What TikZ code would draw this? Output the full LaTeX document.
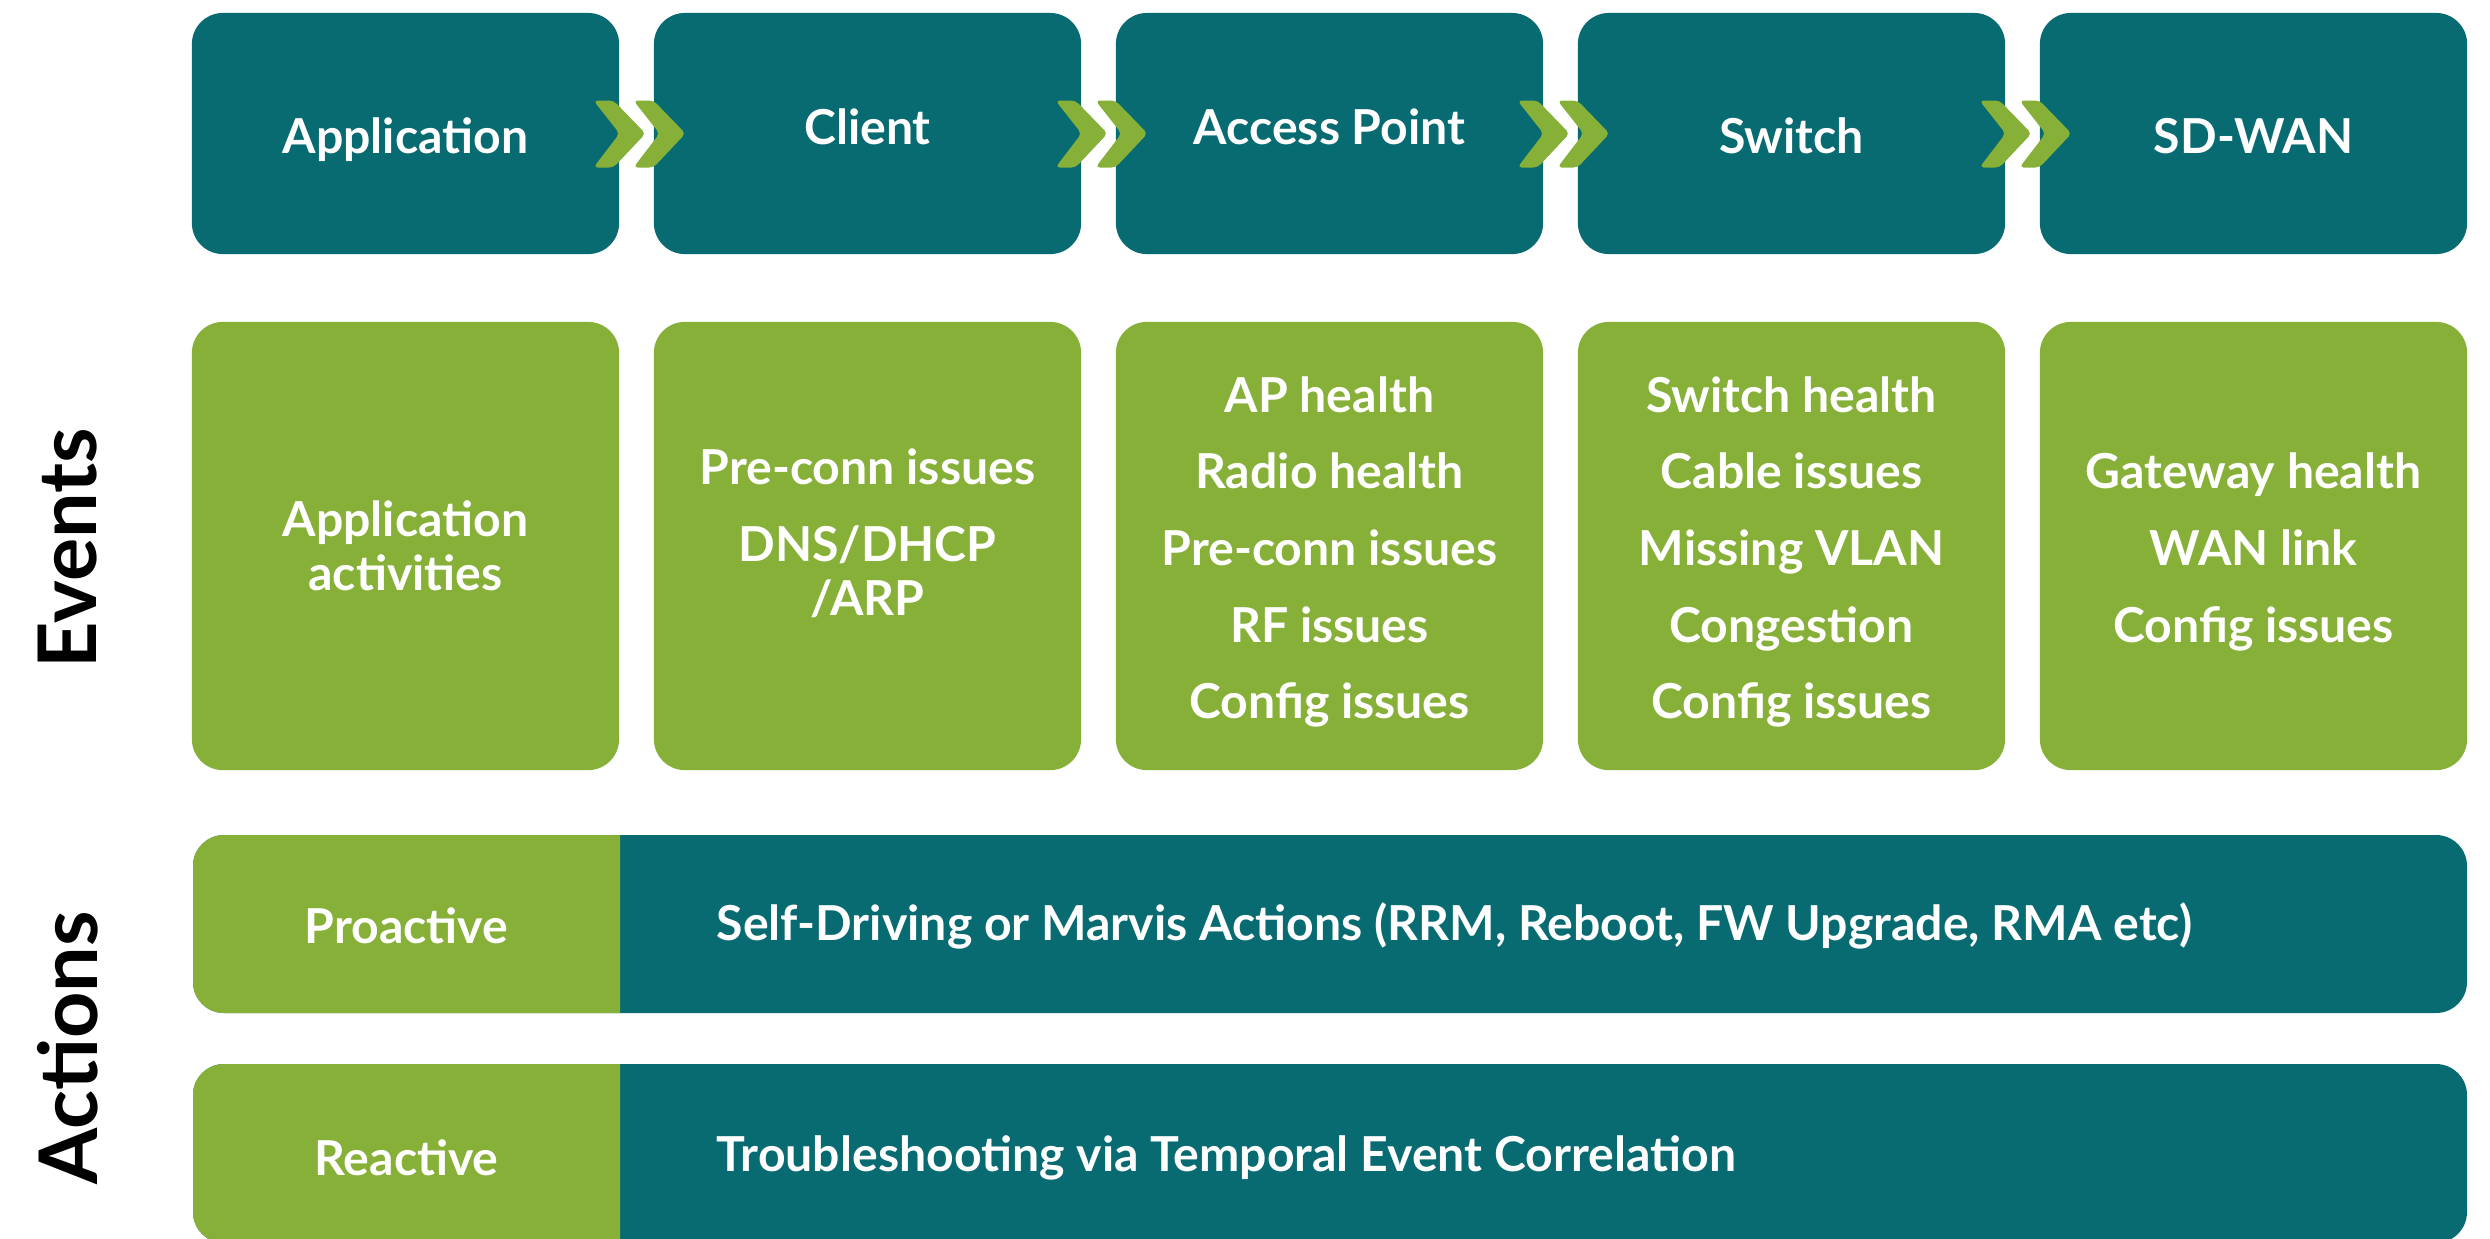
\documentclass[tikz,border=0pt]{standalone}
\usepackage{fontspec}
\setmainfont{Lato}
\usetikzlibrary{calc}
\definecolor{deepteal}{HTML}{076B71}
\definecolor{leaf}{HTML}{86B038}
\newcommand{\evsep}{\\[6.4pt]}
\newcommand{\evtop}{\rule{0pt}{13.5pt}}

\begin{document}
\begin{tikzpicture}[x=0.01cm,y=-0.01cm,
	box/.style={rounded corners=0.31cm, inner sep=0pt, text=white, align=center,
		font=\bfseries\fontsize{13.7}{15.4}\selectfont},
	stage/.style={box, fill=deepteal, minimum width=4.27cm, minimum height=2.41cm, text height=11.6pt, text depth=0pt},
	stageup/.style={stage, text depth=5.5pt},
	evbox/.style={box, fill=leaf, minimum width=4.27cm, minimum height=4.48cm},
	acttxt/.style={text=white, inner sep=0pt, font=\bfseries\fontsize{13.7}{16}\selectfont},
	rowlbl/.style={rotate=90, inner sep=0pt, font=\bfseries\fontsize{23}{27}\selectfont}]
	\useasboundingbox (0,0) rectangle (2490,1238);
	
	% stages
	\node[stage] (app) at (405.5,133.5) {Application};
	\node[stageup] (cli) at (867.5,133.5) {Client};
	\node[stageup] (ap) at (1329.5,133.5) {Access Point};
	\node[stage] (sw) at (1791.5,133.5) {Switch};
	\node[stage] (wan) at (2253.5,133.5) {SD-WAN};
	
	\foreach \a/\b in {app/cli, cli/ap, ap/sw, sw/wan} {
		\coordinate (m) at ($(\a.east)!.5!(\b.west)$);
		\fill[leaf, rounded corners=1.2pt] (m) ++(-43,-33) -- ++(20,0) -- ++(32,33) -- ++(-32,34) -- ++(-20,0) -- ++(26,-34) -- cycle;
		\fill[leaf, rounded corners=1.2pt] (m) ++(-3,-33) -- ++(20,0) -- ++(32,33) -- ++(-32,34) -- ++(-20,0) -- ++(26,-34) -- cycle;
	}
	
	% events
	\node[evbox] (evapp) at (405.5,546) {Application\\activities};
	\node[evbox] (evcli) at (867.5,546) {Pre-conn issues\evsep DNS/DHCP\\/ARP\rule[-8pt]{0pt}{0pt}};
	\node[evbox] (evap) at (1329.5,546) {\evtop AP health\evsep Radio health\evsep Pre-conn issues\evsep RF issues\evsep Config issues};
	\node[evbox] (evsw) at (1791.5,546) {\evtop Switch health\evsep Cable issues\evsep Missing VLAN\evsep Congestion\evsep Config issues};
	\node[evbox] (evwan) at (2253.5,546) {\evtop Gateway health\evsep WAN link\evsep Config issues};
	
	% actions
	\fill[deepteal, rounded corners=0.31cm] (193,835) rectangle (2467,1013);
	\fill[leaf, rounded corners=0.31cm] (620,835) -- (193,835) -- (193,1013) -- (620,1013);
	\fill[deepteal, rounded corners=0.31cm] (193,1064) rectangle (2467,1243);
	\fill[leaf, rounded corners=0.31cm] (620,1064) -- (193,1064) -- (193,1243) -- (620,1243);
	
	\node[acttxt] (pro) at (406.5,926) {Proactive};
	\node[acttxt, anchor=west] (prodo) at (716,926) {Self-Driving or Marvis Actions (RRM, Reboot, FW Upgrade, RMA etc)};
	\node[acttxt] (re) at (406.5,1158) {Reactive};
	\node[acttxt, anchor=west] (redo) at (716,1158) {Troubleshooting via Temporal Event Correlation};
	
	\node[rowlbl] (events) at (68,548) {Events};
	\node[rowlbl] (actions) at (68,1048) {Actions};
\end{tikzpicture}
\end{document}
